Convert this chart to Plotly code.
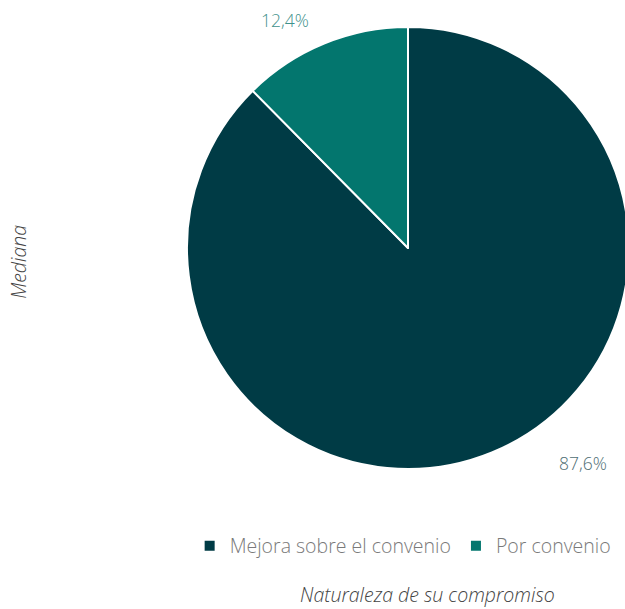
import plotly.graph_objects as go

# Data
categories = ["Mejora sobre el convenio", "Por convenio"]
values = [87.6, 12.4]
colors = ["#003b45", "#03766e"]
label_colors = ["#4f6e74", "#3f918b"]

FONT = "Open Sans"

fig = go.Figure()
fig.add_trace(
    go.Pie(
        labels=categories,
        values=values,
        sort=False,
        direction="clockwise",
        rotation=0,
        textinfo="none",
        hoverinfo="label+percent",
        marker=dict(colors=colors, line=dict(color="white", width=2)),
        domain=dict(x=[0, 1], y=[0, 1]),
    )
)

def pct(v):
    return f"{v:.1f}%".replace(".", ",")

# Outside value labels (one per slice, in slice order)
label_pos = [(0.896, 0.014), (0.222, 1.016)]
for v, c, (lx, ly) in zip(values, label_colors, label_pos):
    fig.add_annotation(
        x=lx, y=ly, xref="paper", yref="paper", text=pct(v), showarrow=False,
        font=dict(family=FONT, size=17.5, color=c, weight=300),
        xanchor="center", yanchor="middle",
    )

# Axis titles
fig.add_annotation(
    x=-0.381, y=0.468, xref="paper", yref="paper", text="<i>Mediana</i>",
    showarrow=False, textangle=-90,
    font=dict(family=FONT, size=19.5, color="#444444", weight=300),
    xanchor="center", yanchor="middle",
)
fig.add_annotation(
    x=0.545, y=-0.283, xref="paper", yref="paper",
    text="<i>Naturaleza de su compromiso</i>", showarrow=False,
    font=dict(family=FONT, size=19.5, color="#444444", weight=300),
    xanchor="center", yanchor="middle",
)

fig.update_layout(
    width=630,
    height=609,
    margin=dict(l=187, r=1, t=27, b=140),
    paper_bgcolor="white",
    plot_bgcolor="white",
    showlegend=True,
    legend=dict(
        orientation="h",
        x=0.006, y=-0.13, xanchor="left", yanchor="top",
        font=dict(family=FONT, size=19.5, color="#7a7a7a", weight=300),
        itemsizing="constant",
        traceorder="normal",
    ),
)

fig.write_html(
    "out.html",
    post_script="document.documentElement.style.overflow='hidden';document.body.style.overflow='hidden';",
)
